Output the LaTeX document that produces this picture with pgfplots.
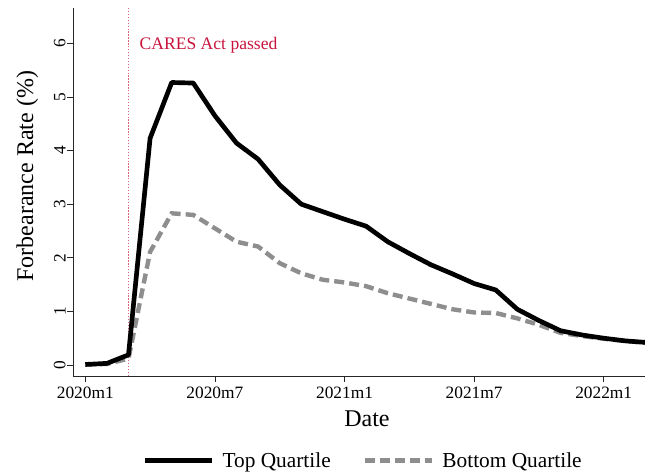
\documentclass[border=0pt]{standalone}
\usepackage{pgfplots}
\pgfplotsset{compat=1.18}
\usepackage{fontspec}
\setmainfont{Liberation Serif}
\definecolor{cares}{RGB}{200,20,60}
\definecolor{botgray}{RGB}{142,142,142}
\begin{document}
\begin{tikzpicture}
\begin{axis}[
  at={(0pt,0pt)}, anchor=south west,
  scale only axis, width=430.3pt, height=276pt,
  xmin=-0.56, xmax=26, ymin=-0.205, ymax=6.66,
  axis x line=bottom, axis y line=left,
  axis line style={-, line width=0.6pt, black!85},
  xtick={0,6,12,18,24},
  xticklabels={2020m1,2020m7,2021m1,2021m7,2022m1},
  ytick={0,1,2,3,4,5,6},
  tick align=outside, major tick length=4.5pt,
  tick style={line width=0.6pt, black!85},
  /pgf/number format/assume math mode=true,
  ticklabel style={font=\fontsize{13}{15}\selectfont},
  yticklabel style={rotate=90, anchor=south, inner sep=1pt},
  xlabel={Date},
  ylabel={Forbearance Rate (\%)},
  label style={font=\fontsize{18}{21}\selectfont},
  xlabel style={at={(axis description cs:0.512,-0.115)}, anchor=center, inner sep=0pt},
  ylabel style={at={(axis description cs:-0.080,0.543)}, anchor=center, inner sep=0pt},
  clip=false,
  reverse legend,
  legend columns=2,
  legend style={at={(axis description cs:0.506,-0.230)}, anchor=center, draw=none, fill=none,
    font=\fontsize{16}{19}\selectfont,
    /tikz/every odd column/.append style={column sep=4.5pt},
    /tikz/every even column/.append style={column sep=22pt}},
  legend image code/.code={\draw[#1] (0pt,0pt) -- (50pt,0pt);},
]
\addplot[forget plot, cares!65, line width=0.9pt, dash pattern=on 1pt off 1.2pt]
  coordinates {(2,-0.205) (2,6.66)};
\node[anchor=base west, inner sep=0pt, text=cares, font=\fontsize{13.2}{15}\selectfont]
  at (axis cs:2.5,5.88) {CARES Act passed};
\addplot[botgray, line width=3.3pt, dash pattern=on 7.5pt off 3.8pt]
  coordinates {
  (0,0.01) (1,0.02) (2,0.12) (3,2.11) (4,2.83) (5,2.80) (6,2.55) (7,2.30)
  (8,2.21) (9,1.90) (10,1.71) (11,1.59) (12,1.54) (13,1.47) (14,1.34)
  (15,1.24) (16,1.14) (17,1.04) (18,0.98) (19,0.97) (20,0.87) (21,0.75)
  (22,0.60) (23,0.54) (24,0.49) (25,0.45) (26,0.41)};
\addlegendentry{Bottom Quartile}
\addplot[black, line width=3.5pt, line join=round]
  coordinates {
  (0,0.01) (1,0.03) (2,0.19) (3,4.23) (4,5.27) (5,5.26) (6,4.65) (7,4.14)
  (8,3.84) (9,3.36) (10,3.00) (11,2.86) (12,2.72) (13,2.59) (14,2.30)
  (15,2.08) (16,1.87) (17,1.70) (18,1.52) (19,1.40) (20,1.04) (21,0.83)
  (22,0.64) (23,0.56) (24,0.50) (25,0.45) (26,0.42)};
\addlegendentry{Top Quartile}
\end{axis}
\pgfresetboundingbox
\path[use as bounding box] (-54.9pt,-73.5pt) rectangle (428.85pt,282pt);
\end{tikzpicture}
\end{document}
